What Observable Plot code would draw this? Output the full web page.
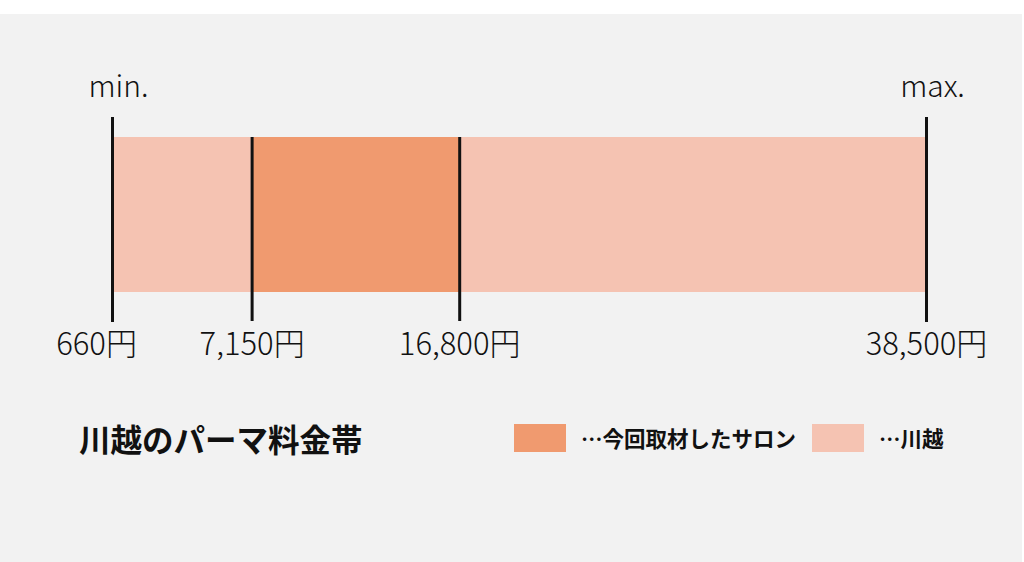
<!DOCTYPE html>
<html>
<head>
<meta charset="utf-8">
<script src="https://cdn.jsdelivr.net/npm/d3@7"></script>
<script src="https://cdn.jsdelivr.net/npm/@observablehq/plot@0.6"></script>
<style>
  html, body { margin: 0; padding: 0; background: #ffffff; }
  #frame {
    position: absolute; left: 0; top: 14px; width: 1022px; height: 548px;
    background: #f2f2f2; font-family: "Noto Sans CJK JP", "Noto Sans", sans-serif;
  }
  #chart { position: absolute; left: 0; top: 0; }
  #title {
    position: absolute; left: 79px; top: 406px; font-size: 31.5px; font-weight: 700;
    color: #111; line-height: 36px; white-space: nowrap;
  }
  #legend { position: absolute; left: 514px; top: 408px; display: flex; align-items: center; }
  .item { display: flex; align-items: center; margin-right: 16px; }
  .swatch { width: 52px; height: 28px; margin-right: 15px; }
  .lab { font-size: 21.5px; font-weight: 700; color: #111; white-space: nowrap; }
</style>
</head>
<body>
<div id="frame">
  <div id="chart"></div>
  <div id="title"></div>
  <div id="legend"></div>
</div>
<script>
// ---- data ----
const rowName = "川越";
const titleText = "川越のパーマ料金帯";
const seriesNames = ["…今回取材したサロン", "…川越"];
const seriesColors = ["#f09a6f", "#f5c3b2"];
const kawagoeRange = [660, 38500];
const salonRange = [7150, 16800];
const prices = [660, 7150, 16800, 38500];
const priceLabels = ["660円", "7,150円", "16,800円", "38,500円"];
const endLabels = ["min.", "max."];

const segments = [
  {series: seriesNames[1], x1: kawagoeRange[0], x2: kawagoeRange[1], row: rowName},
  {series: seriesNames[0], x1: salonRange[0], x2: salonRange[1], row: rowName}
];
const outer = [kawagoeRange[0], kawagoeRange[1]].map((x, i) => ({x, row: rowName, label: endLabels[i]}));
const inner = salonRange.map(x => ({x, row: rowName}));
const ticks = prices.map((x, i) => ({x, row: rowName, label: priceLabels[i]}));

const chart = Plot.plot({
  width: 1022,
  height: 386,
  marginLeft: 112,
  marginRight: 96,
  marginTop: 123,
  marginBottom: 108,
  style: {background: "transparent", fontFamily: "'Noto Sans CJK JP', 'Noto Sans', sans-serif", color: "#111"},
  x: {domain: kawagoeRange, axis: null},
  y: {domain: [rowName], axis: null, padding: 0},
  color: {domain: seriesNames, range: seriesColors},
  marks: [
    Plot.barX(segments, {x1: "x1", x2: "x2", y: "row", fill: "series"}),
    Plot.ruleX(outer, {x: "x", stroke: "#111", strokeWidth: 3, insetTop: -20, insetBottom: -30}),
    Plot.ruleX(inner, {x: "x", stroke: "#111", strokeWidth: 3, insetTop: 0, insetBottom: -29}),
    Plot.text(outer, {x: "x", y: "row", text: "label", dy: -128, dx: 6, fontSize: 30, fontWeight: 300, fill: "#111"}),
    Plot.text(ticks.slice(0, 1), {x: "x", y: "row", text: "label", dy: 130, dx: -16, fontSize: 31, fontWeight: 300, fill: "#111"}),
    Plot.text(ticks.slice(1), {x: "x", y: "row", text: "label", dy: 130, fontSize: 31, fontWeight: 300, fill: "#111"})
  ]
});
document.getElementById("chart").appendChild(chart);

document.getElementById("title").textContent = titleText;
const legend = document.getElementById("legend");
seriesNames.forEach((name, i) => {
  const item = document.createElement("div");
  item.className = "item";
  const sw = document.createElement("div");
  sw.className = "swatch";
  sw.style.background = seriesColors[i];
  const lab = document.createElement("span");
  lab.className = "lab";
  lab.textContent = name;
  item.appendChild(sw);
  item.appendChild(lab);
  legend.appendChild(item);
});
</script>
</body>
</html>
